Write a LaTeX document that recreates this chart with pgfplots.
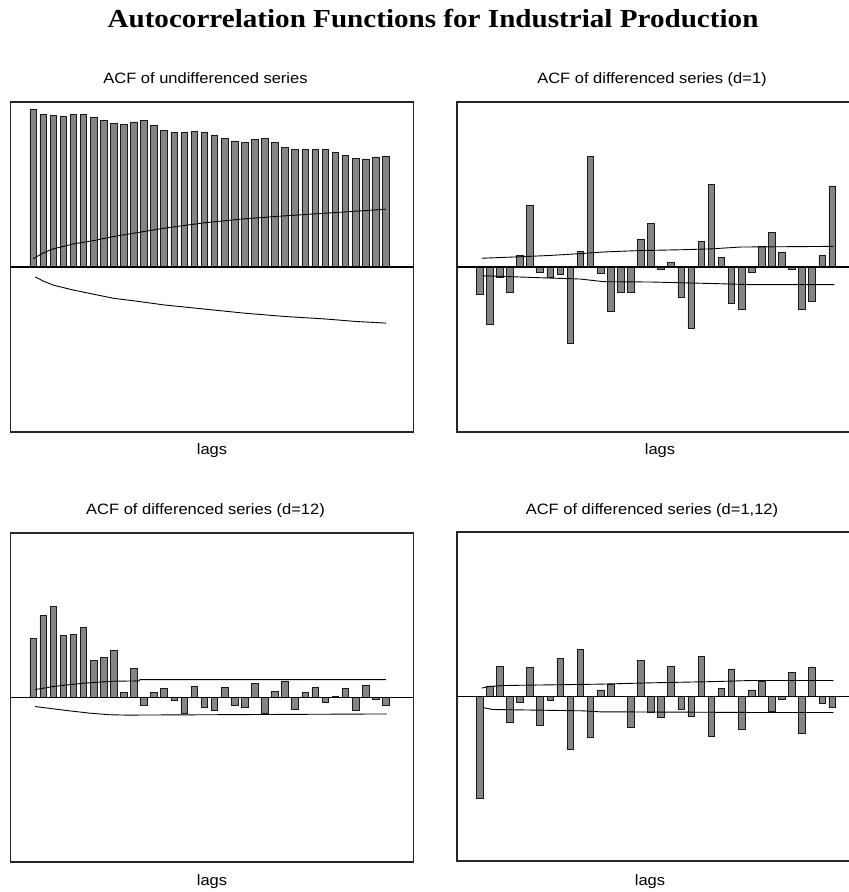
\documentclass[border=0pt]{standalone}
\usepackage{pgfplots}
\pgfplotsset{compat=1.18}
\usepackage{graphicx}
\usepackage{fontspec}
\setmainfont{Liberation Serif}
\newfontfamily\arial{Liberation Sans}

\pgfplotsset{acf/.style={scale only axis, width=403pt, height=330pt,
  xmin=-1.25, xmax=38.75, ymin=-1, ymax=1, ticks=none, anchor=south west,
  axis line style={line width=1.1pt, black!85}, clip=true},
  acfbar/.style={ybar, bar width=6.6pt, fill=black!48, draw=black!90, line width=0.7pt},
  band/.style={black, line width=0.9pt},
  zero/.style={black, line width=1.1pt}}

\newcommand{\sub}[1]{\scalebox{1.1}[1]{\arial\fontsize{15}{18}\selectfont #1}}

\begin{document}
\begin{tikzpicture}
\useasboundingbox (0pt,0pt) rectangle (849pt,892pt);

\node[anchor=base] at (433pt,864pt) {\scalebox{1.12}[1]{\fontsize{26}{30}\selectfont\bfseries Autocorrelation Functions for Industrial Production}};
\node[anchor=base] at (205.5pt,808pt) {\sub{ACF of undifferenced series}};
\node[anchor=base] at (652pt,808pt) {\sub{ACF of differenced series (d=1)}};
\node[anchor=base] at (205.5pt,377pt) {\sub{ACF of differenced series (d=12)}};
\node[anchor=base] at (652pt,377pt) {\sub{ACF of differenced series (d=1,12)}};
\node[anchor=base] at (212pt,437pt) {\sub{lags}};
\node[anchor=base] at (660pt,437pt) {\sub{lags}};
\node[anchor=base] at (212pt,6pt) {\sub{lags}};
\node[anchor=base] at (650pt,6pt) {\sub{lags}};

% Panel 1
\begin{axis}[acf, at={(10.5pt,460pt)}]
\addplot[acfbar] coordinates {(1,0.954)(2,0.927)(3,0.921)(4,0.915)(5,0.923)(6,0.925)(7,0.907)(8,0.887)(9,0.871)(10,0.863)(11,0.879)(12,0.889)(13,0.859)(14,0.828)(15,0.818)(16,0.814)(17,0.822)(18,0.816)(19,0.800)(20,0.780)(21,0.764)(22,0.756)(23,0.774)(24,0.778)(25,0.756)(26,0.723)(27,0.711)(28,0.713)(29,0.713)(30,0.713)(31,0.695)(32,0.675)(33,0.659)(34,0.655)(35,0.667)(36,0.673)};
\addplot[zero] coordinates {(-1.25,0)(38.75,0)};
\addplot[band] coordinates {(1,0.05)(2,0.085)(3,0.11)(4,0.125)(5,0.14)(7,0.16)(9,0.185)(11,0.205)(14,0.235)(18,0.268)(22,0.292)(26,0.31)(30,0.326)(33,0.338)(36,0.35)};
\addplot[band] coordinates {(1.2,-0.06)(2,-0.085)(3,-0.11)(4,-0.125)(5,-0.14)(7,-0.165)(9,-0.19)(11,-0.205)(14,-0.23)(18,-0.255)(22,-0.28)(26,-0.3)(30,-0.315)(33,-0.33)(36,-0.34)};
\end{axis}

% Panel 2
\begin{axis}[acf, at={(457pt,460pt)}]
\addplot[acfbar] coordinates {(1,-0.166)(2,-0.349)(3,-0.061)(4,-0.156)(5,0.069)(6,0.374)(7,-0.032)(8,-0.065)(9,-0.044)(10,-0.465)(11,0.093)(12,0.671)(13,-0.038)(14,-0.267)(15,-0.156)(16,-0.154)(17,0.168)(18,0.263)(19,-0.014)(20,0.028)(21,-0.182)(22,-0.370)(23,0.156)(24,0.499)(25,0.059)(26,-0.222)(27,-0.255)(28,-0.032)(29,0.123)(30,0.210)(31,0.091)(32,-0.014)(33,-0.259)(34,-0.208)(35,0.069)(36,0.491)};
\addplot[zero] coordinates {(-1.25,0)(38.75,0)};
\addplot[band] coordinates {(1.2,0.053)(5,0.062)(8,0.070)(11,0.081)(13.3,0.091)(16.6,0.099)(21.3,0.105)(24,0.11)(26.9,0.121)(36.1,0.125)};
\addplot[band] coordinates {(1.3,-0.053)(7,-0.065)(11,-0.073)(13.3,-0.089)(18,-0.091)(24.6,-0.101)(27.9,-0.107)(36.2,-0.107)};
\end{axis}

% Panel 3
\begin{axis}[acf, at={(10.5pt,30pt)}, height=329pt]
\addplot[acfbar] coordinates {(1,0.360)(2,0.501)(3,0.554)(4,0.378)(5,0.384)(6,0.424)(7,0.226)(8,0.246)(9,0.287)(10,0.032)(11,0.176)(12,-0.046)(13,0.032)(14,0.053)(15,-0.016)(16,-0.095)(17,0.069)(18,-0.059)(19,-0.081)(20,0.059)(21,-0.048)(22,-0.057)(23,0.087)(24,-0.095)(25,0.038)(26,0.101)(27,-0.069)(28,0.030)(29,0.063)(30,-0.030)(31,0.004)(32,0.055)(33,-0.081)(34,0.071)(35,-0.014)(36,-0.046)};
\addplot[zero] coordinates {(-1.25,0)(38.75,0)};
\addplot[band] coordinates {(1.2,0.048)(3,0.067)(6,0.087)(9,0.099)(11.5,0.101)(11.6,0.109)(36,0.109)};
\addplot[band] coordinates {(1.2,-0.055)(4.3,-0.079)(6.6,-0.095)(8.6,-0.105)(10.3,-0.107)(36.1,-0.10)};
\end{axis}

% Panel 4
\begin{axis}[acf, at={(457pt,31pt)}, height=329pt]
\addplot[acfbar] coordinates {(1,-0.617)(2,0.059)(3,0.182)(4,-0.156)(5,-0.038)(6,0.176)(7,-0.174)(8,-0.022)(9,0.231)(10,-0.322)(11,0.287)(12,-0.249)(13,0.040)(14,0.071)(15,0.002)(16,-0.190)(17,0.221)(18,-0.095)(19,-0.128)(20,0.186)(21,-0.077)(22,-0.121)(23,0.245)(24,-0.245)(25,0.051)(26,0.168)(27,-0.200)(28,0.040)(29,0.093)(30,-0.093)(31,-0.018)(32,0.148)(33,-0.223)(34,0.180)(35,-0.040)(36,-0.063)};
\addplot[zero] coordinates {(-1.25,0)(38.75,0)};
\addplot[band] coordinates {(1.2,0.051)(1.9,0.061)(3.6,0.067)(12.9,0.075)(17.9,0.083)(24.5,0.091)(27.8,0.097)(36.1,0.097)};
\addplot[band] coordinates {(1.3,-0.067)(2.3,-0.079)(11.2,-0.087)(12.9,-0.093)(27.8,-0.097)(36.1,-0.097)};
\end{axis}
\end{tikzpicture}
\end{document}
